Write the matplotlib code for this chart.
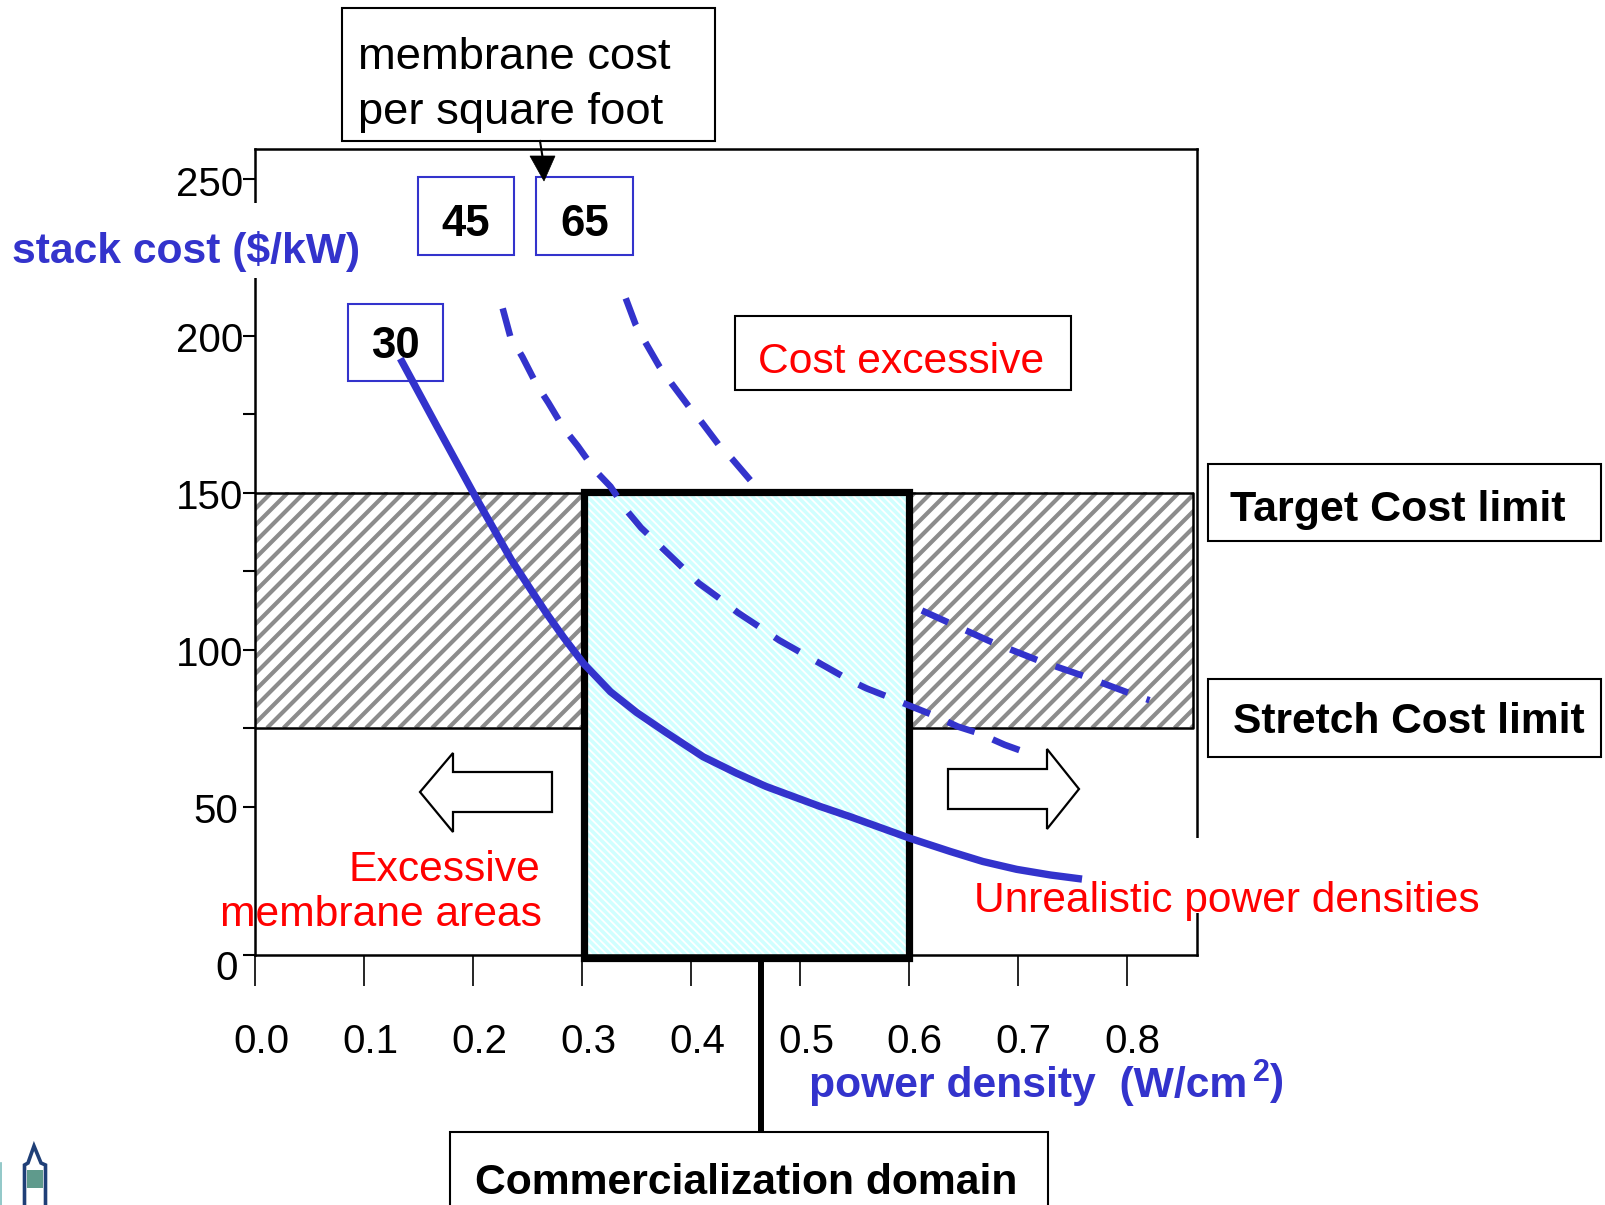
import numpy as np
import matplotlib
matplotlib.use('Agg')
import matplotlib.pyplot as plt
from matplotlib.collections import LineCollection
from matplotlib.patches import Polygon, Rectangle
from matplotlib.transforms import Affine2D, ScaledTranslation

plt.rcParams['font.family'] = ['Liberation Sans', 'DejaVu Sans']

BLUE = '#3333CC'
RED = '#FF0000'

x_labels = ['0.0', '0.1', '0.2', '0.3', '0.4', '0.5', '0.6', '0.7', '0.8']
x_ticks = [0.0, 0.1, 0.2, 0.3, 0.4, 0.5, 0.6, 0.7, 0.8]
y_labels = ['0', '50', '100', '150', '200', '250']
y_ticks = [2.7, 50, 100, 150, 200, 250]
y_minor = [75, 125, 175]

# membrane cost 30, solid
x_30 = [0.133, 0.166, 0.203, 0.235, 0.251, 0.267, 0.283, 0.301, 0.326, 0.350, 0.378, 0.411, 0.442,
        0.469, 0.518, 0.546, 0.601, 0.638, 0.668, 0.699, 0.730, 0.759]
y_30 = [192.8, 171.6, 148.1, 128.6, 120.1, 111.7, 103.9, 95.7, 86.6, 80.0, 73.4, 65.9, 60.6,
        56.4, 50.1, 46.8, 39.9, 35.7, 32.5, 30.0, 28.2, 26.9]
# membrane cost 45, dashed
x_45 = [0.227, 0.234, 0.245, 0.258, 0.269, 0.283, 0.296, 0.312, 0.326, 0.341, 0.354, 0.388, 0.407,
        0.424, 0.443, 0.460, 0.481, 0.546, 0.561, 0.580, 0.604, 0.622, 0.645, 0.664, 0.688, 0.708]
y_45 = [208.8, 199.8, 193.4, 184.6, 178.7, 170.6, 164.9, 157.1, 152.0, 144.3, 138.9, 127.6, 121.2,
        116.9, 111.8, 107.9, 103.0, 90.2, 87.7, 85.1, 81.7, 79.2, 75.5, 73.4, 69.7, 67.2]
# membrane cost 65, dashed, the box hides the middle
x_65_top = [0.340, 0.349, 0.358, 0.371, 0.382, 0.398, 0.410, 0.425, 0.438, 0.455]
y_65_top = [212.0, 203.7, 198.0, 190.2, 184.9, 177.5, 172.4, 165.5, 160.7, 153.8]
x_65_low = [0.612, 0.675, 0.718, 0.759, 0.800, 0.821]
y_65_low = [112.5, 102.6, 96.7, 91.8, 86.5, 83.9]

band_low, band_high = 75, 150


def stripes(ax, box, pitch, slope, color, lw, z):
    # diagonal lines clipped to a box, in pixels
    x0, y0, x1, y1 = box
    h = y1 - y0
    segs = []
    for x in np.arange(x0 - h, x1 + h, pitch):
        segs.append([(x, y1 if slope > 0 else y0), (x + h, y0 if slope > 0 else y1)])
    clip = Rectangle((x0, y0), x1 - x0, h, transform=px, fill=False, lw=0)
    ax.add_patch(clip)
    lc = LineCollection(segs, colors=color, linewidths=lw, transform=px, zorder=z)
    ax.add_collection(lc, autolim=False)
    lc.set_clip_path(clip)


def box_text(ax, box, text, color='black', edge='black', lw=1.5, size=30, weight='normal', pad=None, dy=0, z=6,
             spacing=1.15):
    x0, y0, x1, y1 = box
    ax.add_patch(Rectangle((x0, y0), x1 - x0, y1 - y0, transform=px, fc='white', ec=edge, lw=lw,
                           clip_on=False, zorder=z))
    if pad is None:
        ax.text((x0 + x1) / 2, (y0 + y1) / 2 + dy, text, transform=px, color=color, fontsize=size,
                fontweight=weight, ha='center', va='center', zorder=z + 1)
    else:
        ax.text(x0 + pad, (y0 + y1) / 2 + dy, text, transform=px, color=color, fontsize=size,
                fontweight=weight, ha='left', va='center', zorder=z + 1, linespacing=spacing)


fig = plt.figure(figsize=(16.06, 12.05), dpi=100)
ax = fig.add_axes([255.5 / 1606, 1 - 955 / 1205, (1197 - 255.5) / 1606, (955 - 149) / 1205])
px = Affine2D().scale(1 / 1606, -1 / 1205).translate(0, 1) + fig.transFigure

ax.set_xlim(0, 0.8646)
ax.set_ylim(2.7, 259.6)
for spine in ['left', 'right', 'top', 'bottom']:
    ax.spines[spine].set_linewidth(1.8)
ax.set_xticks(x_ticks)
ax.set_xticklabels(x_labels, fontsize=29)
ax.set_yticks(y_ticks)
ax.set_yticklabels(y_labels, fontsize=29)
ax.set_yticks(y_minor, minor=True)
ax.tick_params(axis='x', length=22, width=1.2, pad=27)
ax.tick_params(axis='y', length=8.5, width=1.5, pad=0)
ax.tick_params(axis='y', which='minor', length=8.5, width=1.5)

# the printed labels sit a little off their ticks
for lab in ax.get_xticklabels():
    lab.set_transform(lab.get_transform() + ScaledTranslation(6 / 100, 0, fig.dpi_scale_trans))
y_shift = [(-6, -10), (-5, -1), (0, -1), (0, -1), (0, -1), (0, -2)]
for lab, (dx, dy) in zip(ax.get_yticklabels(), y_shift):
    lab.set_transform(lab.get_transform() + ScaledTranslation(dx / 100, dy / 100, fig.dpi_scale_trans))

# hatched cost band
stripes(ax, (255.5, 492, 1194, 728), 16.5, 1, '#8c8c8c', 3.0, 1.2)
ax.plot([0, 0.861, 0.861, 0], [band_high, band_high, band_low, band_low], color='black', lw=1.8, zorder=1.5)

# commercialization domain
ax.add_patch(Rectangle((584, 492), 325, 466, transform=px, fc='white', ec='none', clip_on=False, zorder=1.85))
stripes(ax, (584, 492, 909, 958), 7.5, -1, '#d0ffff', 2.5, 1.9)
ax.add_patch(Rectangle((584, 492), 325, 466, transform=px, fill=False, ec='black', lw=5.2,
                       clip_on=False, zorder=4, joinstyle='miter'))

# white backing behind the labels that cut the frame
ax.add_patch(Rectangle((1150, 838), 60, 75, transform=px, fc='white', ec='none', clip_on=False, zorder=3))
ax.add_patch(Rectangle((240, 203), 30, 75, transform=px, fc='white', ec='none', clip_on=False, zorder=3))

dash = dict(color=BLUE, lw=4.7, dashes=(4.4, 3.0), dash_capstyle='butt', zorder=5)
ax.plot(x_65_top, y_65_top, **dash)
ax.plot(x_65_low, y_65_low, **dash)
ax.plot(x_45, y_45, **dash)
ax.plot(x_30, y_30, color=BLUE, lw=5.3, solid_capstyle='butt', solid_joinstyle='round', zorder=5)

# boxes
box_text(ax, (342, 8, 715, 141), 'membrane cost\nper square foot', size=32.7, pad=16, dy=10.5, spacing=1.41)
box_text(ax, (418, 177, 514, 255), '45', edge=BLUE, size=31.5, weight='bold', dy=9)
box_text(ax, (536, 177, 633, 255), '65', edge=BLUE, size=31.5, weight='bold', dy=9)
box_text(ax, (348, 304, 443, 381), '30', edge=BLUE, size=31.5, weight='bold', dy=4, z=4.5)
box_text(ax, (735, 316, 1071, 390), 'Cost excessive', color=RED, size=30.7, pad=23, dy=9)
box_text(ax, (1208, 464, 1601, 541), 'Target Cost limit', size=31, weight='bold', pad=22, dy=8)
box_text(ax, (1208, 679, 1601, 757), 'Stretch Cost limit', size=30.6, weight='bold', pad=25, dy=4)
box_text(ax, (450, 1132, 1048, 1230), 'Commercialization domain', size=30.7, weight='bold', pad=25, dy=2)

# black stem and arrow
ax.plot([761, 761], [958, 1132], transform=px, color='black', lw=4.3, clip_on=False, zorder=3,
        solid_capstyle='butt')
ax.plot([540, 543], [141, 160], transform=px, color='black', lw=1.5, clip_on=False, zorder=8)
ax.add_patch(Polygon([(530, 156), (555, 156), (544, 181)], transform=px, fc='black', ec='black',
                     lw=0.5, clip_on=False, zorder=8))

# block arrows
ax.add_patch(Polygon([(420, 792), (453, 753), (453, 772), (552, 772), (552, 812), (453, 812), (453, 832)],
                     transform=px, fc='white', ec='black', lw=1.6, zorder=3, clip_on=False))
ax.add_patch(Polygon([(948, 769), (1047, 769), (1047, 749), (1079, 789), (1047, 829), (1047, 809), (948, 809)],
                     transform=px, fc='white', ec='black', lw=1.6, zorder=3, clip_on=False))

# labels
ax.text(12, 252, 'stack cost ($/kW)', transform=px, color=BLUE, fontsize=30.7, fontweight='bold',
        ha='left', va='center', zorder=7)
ax.text(540, 870, 'Excessive', transform=px, color=RED, fontsize=30.7, ha='right', va='center', zorder=7)
ax.text(542, 915, 'membrane areas', transform=px, color=RED, fontsize=30.7, ha='right', va='center', zorder=7)
ax.text(974, 901, 'Unrealistic power densities', transform=px, color=RED, fontsize=30.6, ha='left',
        va='center', zorder=7)
ax.text(809, 1086, 'power density  (W/cm', transform=px, color=BLUE, fontsize=30.7, fontweight='bold',
        ha='left', va='center', zorder=7)
ax.text(1253, 1073, '2', transform=px, color=BLUE, fontsize=22, fontweight='bold', ha='left', va='center', zorder=7)
ax.text(1269, 1083, ')', transform=px, color=BLUE, fontsize=30.7, fontweight='bold', ha='left', va='center', zorder=7)

# small logo bottom left
ax.add_patch(Polygon([(24.5, 1210), (24.5, 1165), (28, 1163), (34, 1146), (41, 1163), (45.5, 1165), (45.5, 1210)],
                     transform=px, fc='white', ec='#1f3f77', lw=2.6, clip_on=False, zorder=3))
ax.add_patch(Rectangle((27, 1170), 16, 18, transform=px, fc='#5f9a8c', ec='none', clip_on=False, zorder=3.5))
ax.plot([0.5, 0.5], [1163, 1205], transform=px, color='#7fbfbf', lw=1.2, clip_on=False, zorder=3)

fig.savefig('out.png', dpi=100)
